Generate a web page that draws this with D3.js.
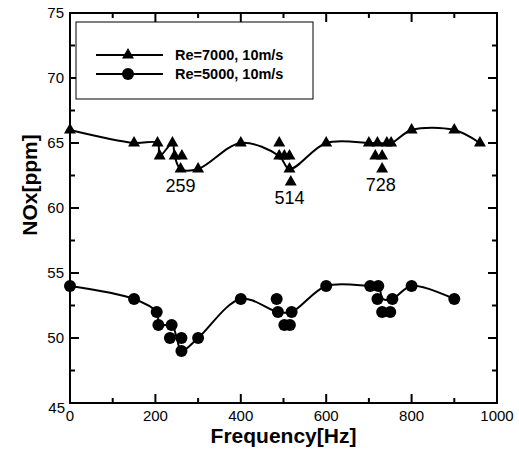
<!DOCTYPE html>
<html><head><meta charset="utf-8">
<script src="https://cdn.jsdelivr.net/npm/d3@7"></script>
<style>body{margin:0;background:#fff}svg{display:block}</style>
</head><body>
<script>
// ---- data ----
const xTicks = [0, 200, 400, 600, 800, 1000];
const yTicks = [45, 50, 55, 60, 65, 70, 75];
const seriesNames = ["Re=7000, 10m/s", "Re=5000, 10m/s"];
// Re=7000 measured points [frequency, NOx]
const triPoints = [[0,66],[150,65],[205,65],[210,64],[240,65],[245,64],[262,64],[259,63],[300,63],
  [400,65],[490,65],[490,64],[502,64],[514,64],[514,63],[517,62],[600,65],
  [700,65],[715,64],[720,65],[731,64],[731,63],[742,65],[752,65],[800,66],[900,66],[960,65]];
// Re=7000 fitted line nodes
const triLine = [[0,66],[150,65],[205,65],[210,64],[240,65],[245,64],[259,63],[300,63],[400,65],
  [490,64],[514,63],[600,65],[700,65],[720,65],[752,65],[800,66],[900,66],[960,65]];
// Re=5000 measured points
const cirPoints = [[0,54],[150,53],[203,52],[207,51],[238,51],[234,50],[261,50],[261,49],[300,50],
  [400,53],[484,53],[487,52],[519,52],[502,51],[515,51],[600,54],[703,54],[722,54],[720,53],
  [755,53],[731,52],[750,52],[800,54],[900,53]];
const cirLine = [[0,54],[150,53],[203,52],[210,51],[238,51],[250,50],[261,49],[300,50],[400,53],
  [487,52],[519,52],[600,54],[703,54],[722,54],[733,53],[755,53],[800,54],[900,53]];
const peakLabels = [["259",259,61.2],["514",514,60.3],["728",728,61.3]];

// ---- chart ----
const W = 519, H = 458;
const m = {l:70, r:22, t:13, b:55};
const svg = d3.select("body").append("svg").attr("width", W).attr("height", H);
const x = d3.scaleLinear().domain([0,1000]).range([m.l, W - m.r]);
const y = d3.scaleLinear().domain([45,75]).range([H - m.b, m.t]);
const font = "Arial, 'Liberation Sans', sans-serif";

// ticks (inward, all four sides)
const g = svg.append("g");
const xMinor = d3.range(100, 1000, 200);
const yMinor = d3.range(47.5, 75, 5);
function tickX(v, len){
  g.append("line").attr("x1",x(v)).attr("x2",x(v)).attr("y1",y(45)).attr("y2",y(45)-len).attr("stroke","#000").attr("stroke-width",2);
  g.append("line").attr("x1",x(v)).attr("x2",x(v)).attr("y1",y(75)).attr("y2",y(75)+len).attr("stroke","#000").attr("stroke-width",2);
}
function tickY(v, len){
  g.append("line").attr("y1",y(v)).attr("y2",y(v)).attr("x1",x(0)).attr("x2",x(0)+len).attr("stroke","#000").attr("stroke-width",2);
  g.append("line").attr("y1",y(v)).attr("y2",y(v)).attr("x1",x(1000)).attr("x2",x(1000)-len).attr("stroke","#000").attr("stroke-width",2);
}
xTicks.forEach(v => tickX(v, 9));
xMinor.forEach(v => tickX(v, 5));
yTicks.forEach(v => tickY(v, 9));
yMinor.forEach(v => tickY(v, 5));

// frame
svg.append("rect").attr("x",x(0)).attr("y",y(75)).attr("width",x(1000)-x(0)).attr("height",y(45)-y(75))
  .attr("fill","none").attr("stroke","#000").attr("stroke-width",2);

// tick labels
svg.selectAll(".xl").data(xTicks).enter().append("text")
  .attr("x", d => x(d)).attr("y", y(45) + 18).attr("text-anchor","middle")
  .attr("font-family",font).attr("font-size",15).text(d => d);
svg.selectAll(".yl").data(yTicks).enter().append("text")
  .attr("x", d => d===45 ? x(0) - 5 : x(0) - 6).attr("y", d => d===45 ? y(d) + 10 : y(d) + 5).attr("text-anchor","end")
  .attr("font-family",font).attr("font-size",15).text(d => d);

// axis titles
svg.append("text").attr("x",(x(0)+x(1000))/2).attr("y",443).attr("text-anchor","middle")
  .attr("font-family",font).attr("font-weight","bold").attr("font-size",21).text("Frequency[Hz]");
svg.append("text").attr("transform","translate(37,185) rotate(-90)").attr("text-anchor","middle")
  .attr("font-family",font).attr("font-weight","bold").attr("font-size",21).text("NOx[ppm]");

// lines
const line = d3.line().x(d => x(d[0])).y(d => y(d[1])).curve(d3.curveCatmullRom.alpha(0.5));
svg.append("path").attr("d", line(triLine)).attr("fill","none").attr("stroke","#000").attr("stroke-width",2);
svg.append("path").attr("d", line(cirLine)).attr("fill","none").attr("stroke","#000").attr("stroke-width",2);

// markers
const tri = d3.symbol().type(d3.symbolTriangle).size(62);
svg.selectAll(".tri").data(triPoints).enter().append("path")
  .attr("d", tri).attr("transform", d => `translate(${x(d[0])},${y(d[1])})`).attr("fill","#000");
svg.selectAll(".cir").data(cirPoints).enter().append("circle")
  .attr("cx", d => x(d[0])).attr("cy", d => y(d[1])).attr("r",6).attr("fill","#000");

// peak labels
svg.selectAll(".pk").data(peakLabels).enter().append("text")
  .attr("x", d => x(d[1])).attr("y", d => y(d[2])).attr("text-anchor","middle")
  .attr("font-family",font).attr("font-size",18).text(d => d[0]);

// legend
const lg = svg.append("g");
lg.append("rect").attr("x",76).attr("y",22).attr("width",237).attr("height",77)
  .attr("fill","#fff").attr("stroke","#000").attr("stroke-width",1);
[0,1].forEach(i => {
  const yy = 55 + i*19;
  lg.append("line").attr("x1",96).attr("x2",163).attr("y1",yy).attr("y2",yy).attr("stroke","#000").attr("stroke-width",2);
  if (i===0) lg.append("path").attr("d",tri).attr("transform",`translate(128,${yy})`).attr("fill","#000");
  else lg.append("circle").attr("cx",128).attr("cy",yy).attr("r",6).attr("fill","#000");
  lg.append("text").attr("x",175).attr("y",yy+5).attr("font-family",font).attr("font-weight","bold")
    .attr("font-size",14.5).text(seriesNames[i]);
});
</script>
</body></html>
